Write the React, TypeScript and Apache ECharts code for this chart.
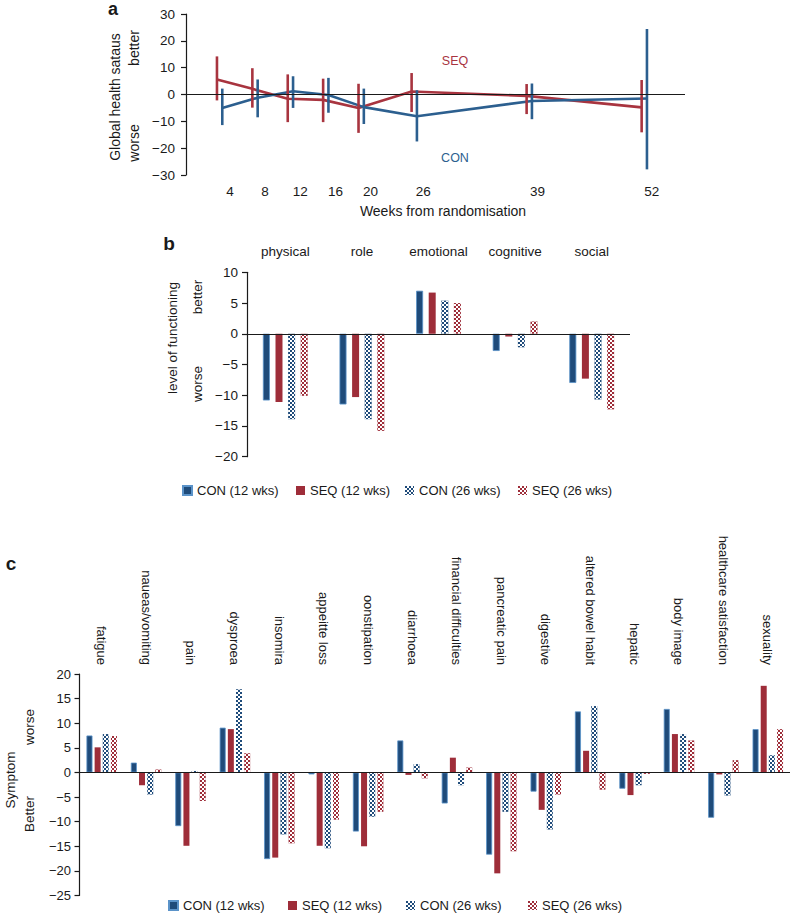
import React, { useEffect, useRef } from 'react';
import * as echarts from 'echarts';

const FONT = '"Liberation Sans", Arial, Helvetica, sans-serif';
const INK = '#1a1a1a';
const BLUE = '#1F4B7A';
const BLUE_EDGE = '#5B93C9';
const RED = '#9E2D39';
const LINE_BLUE = '#2C5F8F';
const LINE_RED = '#A8343F';

// ---- Panel a: global health status over time ----
const weeks = [4, 8, 12, 16, 20, 26, 39, 52];
const weekTicks = [4, 8, 12, 16, 20, 26, 39, 52];
const conOffset = 0.6;
const seqMean = [5.6, 2.1, -1.6, -2.0, -5.0, 1.1, -0.5, -4.8];
const seqLow = [-2.2, -4.9, -10.3, -10.3, -14.3, -6.5, -7.3, -14.1];
const seqHigh = [14.2, 9.8, 7.5, 5.9, 4.0, 8.0, 3.9, 5.4];
const conMean = [-5.0, -1.2, 1.2, -0.2, -4.7, -8.1, -2.4, -1.5];
const conLow = [-11.4, -8.5, -5.0, -6.8, -11.0, -17.5, -9.2, -27.9];
const conHigh = [2.2, 5.6, 6.8, 6.2, 2.2, 1.6, 4.1, 24.4];

// ---- Panel b: level of functioning ----
const funcCats = ['physical', 'role', 'emotional', 'cognitive', 'social'];
const funcCon12 = [-10.85, -11.5, 7.0, -2.8, -8.0];
const funcSeq12 = [-11.1, -10.3, 6.7, -0.45, -7.3];
const funcCon26 = [-13.9, -13.9, 5.4, -2.2, -10.7];
const funcSeq26 = [-10.1, -15.8, 5.0, 2.0, -12.3];

// ---- Panel c: symptoms ----
const sympCats = [
  'fatigue', 'naueas/vomiting', 'pain', 'dysproea', 'insomira', 'appeitte loss',
  'oonstipation', 'diarrhoea', 'financial difficulties', 'pancreatic pain', 'digestive',
  'altered bowel habit', 'hepatic', 'body image', 'healthcare satisfaction', 'sexuality',
];
const sympCon12 = [7.5, 2.0, -10.9, 9.1, -17.6, -0.4, -12.0, 6.5, -6.3, -16.7, -3.9, 12.4, -3.3, 12.9, -9.2, 8.8];
const sympSeq12 = [5.1, -2.6, -14.9, 8.8, -17.3, -14.9, -15.0, -0.5, 3.0, -20.5, -7.6, 4.4, -4.6, 7.8, -0.4, 17.6];
const sympCon26 = [7.8, -4.5, 0.3, 16.9, -12.6, -15.4, -9.0, 1.7, -2.6, -8.0, -11.6, 13.5, -2.6, 7.8, -4.7, 3.5];
const sympSeq26 = [7.4, 0.6, -5.8, 3.9, -14.4, -9.6, -8.0, -1.2, 1.0, -16.0, -4.5, -3.5, -0.3, 6.5, 2.5, 8.8];

const legendNames = ['CON (12 wks)', 'SEQ (12 wks)', 'CON (26 wks)', 'SEQ (26 wks)'];
const legendLeftB = [182, 296, 405, 518];
const legendLeftC = [168, 288, 406, 528];

const minusFmt = (v: number) => (v < 0 ? '\u2212' + -v : String(v));

const checkDecal = {
  symbol: 'rect',
  symbolSize: 1,
  dashArrayX: [[2, 2], [0, 2, 2, 0]],
  dashArrayY: [2, 0],
  color: '#ffffff',
  rotation: 0,
};

function errorBars(xs: number[], lows: number[], highs: number[], color: string, name: string) {
  return {
    type: 'custom',
    name,
    xAxisIndex: 0,
    yAxisIndex: 0,
    silent: true,
    z: 4,
    data: xs.map((x, i) => [x, lows[i], highs[i]]),
    encode: { x: 0, y: [1, 2] },
    renderItem: (_p: any, api: any) => {
      const a = api.coord([api.value(0), api.value(1)]);
      const b = api.coord([api.value(0), api.value(2)]);
      return {
        type: 'line',
        shape: { x1: a[0], y1: a[1], x2: b[0], y2: b[1] },
        style: { stroke: color, lineWidth: 2.6 },
      };
    },
  };
}

const zeroLine = {
  silent: true,
  symbol: ['none', 'none'],
  label: { show: false },
  lineStyle: { color: INK, width: 1.1, type: 'solid' },
  data: [{ yAxis: 0 }],
};

function barSeries(
  name: string,
  data: number[],
  gridIdx: number,
  kind: 'con12' | 'seq12' | 'con26' | 'seq26',
  barWidth: number,
  barGap: string,
  withZero: boolean
) {
  const base: any = {
    type: 'bar',
    name,
    xAxisIndex: gridIdx === 1 ? 2 : 3,
    yAxisIndex: gridIdx,
    data,
    barWidth,
    barGap,
    silent: true,
  };
  if (kind === 'con12') base.itemStyle = { color: BLUE, borderColor: BLUE_EDGE, borderWidth: 0.8 };
  if (kind === 'seq12') base.itemStyle = { color: RED };
  if (kind === 'con26') base.itemStyle = { color: BLUE, decal: checkDecal };
  if (kind === 'seq26') base.itemStyle = { color: RED, decal: checkDecal };
  if (withZero) base.markLine = zeroLine;
  return base;
}

function yAxisCfg(grid: number, min: number, max: number, interval: number, margin: number, fontSize: number) {
  return {
    gridIndex: grid,
    type: 'value',
    min,
    max,
    interval,
    axisLine: { show: true, onZero: false, lineStyle: { color: INK, width: 1.2 } },
    axisTick: { show: true, length: 5, lineStyle: { color: INK, width: 1.2 } },
    axisLabel: { margin, fontSize, color: INK, fontFamily: FONT, formatter: minusFmt },
    splitLine: { show: false },
  };
}

function txt(x: number, y: number, text: string, opts: any = {}) {
  return {
    type: 'text',
    x,
    y,
    rotation: opts.rotate ? Math.PI / 2 : 0,
    silent: true,
    style: {
      text,
      fill: opts.color || INK,
      fontSize: opts.size || 13.5,
      fontWeight: opts.bold ? 'bold' : 'normal',
      fontFamily: FONT,
      align: 'center',
      verticalAlign: 'middle',
    },
  };
}

function legendItem(name: string, left: number, top: number) {
  return {
    data: [name],
    left,
    top,
    itemWidth: 9,
    itemHeight: 9,
    icon: 'rect',
    selectedMode: false,
    padding: 0,
    textStyle: { fontSize: 13, color: INK, fontFamily: FONT },
  };
}

export default function App() {
  const ref = useRef<HTMLDivElement>(null);
  useEffect(() => {
    if (!ref.current) return;
    const chart = echarts.init(ref.current, undefined, { renderer: 'svg', width: 793, height: 915 });
    const option: any = {
      animation: false,
      backgroundColor: '#ffffff',
      textStyle: { fontFamily: FONT },
      grid: [
        { left: 186, top: 14, width: 499, height: 161, outerBoundsMode: 'none' },
        { left: 247, top: 272.3, width: 383, height: 184.4, outerBoundsMode: 'none' },
        { left: 79.5, top: 674, width: 710.5, height: 221.5, outerBoundsMode: 'none' },
      ],
      xAxis: [
        { gridIndex: 0, type: 'value', min: 0.5, max: 56.9, show: false, position: 'bottom' },
        {
          gridIndex: 0,
          type: 'value',
          position: 'bottom',
          min: -1.0,
          max: 55.77,
          axisLine: { show: false, onZero: false },
          axisTick: { show: false },
          splitLine: { show: false },
          axisLabel: { customValues: weekTicks, margin: 9, fontSize: 13.5, color: INK, fontFamily: FONT },
        },
        {
          gridIndex: 1,
          type: 'category',
          data: funcCats,
          position: 'top',
          axisLine: { show: false, onZero: false },
          axisTick: { show: false },
          axisLabel: { margin: 14, fontSize: 13.5, color: INK, fontFamily: FONT, interval: 0 },
        },
        {
          gridIndex: 2,
          type: 'category',
          data: sympCats,
          position: 'top',
          axisLine: { show: false, onZero: false },
          axisTick: { show: false },
          axisLabel: { margin: 9, rotate: 90, fontSize: 13, color: INK, fontFamily: FONT, interval: 0 },
        },
      ],
      yAxis: [
        yAxisCfg(0, -30, 30, 10, 11, 13.5),
        yAxisCfg(1, -20, 10, 5, 9, 13.5),
        yAxisCfg(2, -25, 20, 5, 8.5, 13),
      ],
      legend: [
        ...legendNames.map((n, i) => legendItem(n, legendLeftB[i], 484)),
        ...legendNames.map((n, i) => legendItem(n, legendLeftC[i], 899)),
      ],
      series: [
        {
          type: 'line',
          name: 'SEQ trend',
          xAxisIndex: 0,
          yAxisIndex: 0,
          data: weeks.map((w, i) => [w, seqMean[i]]),
          symbol: 'none',
          lineStyle: { color: LINE_RED, width: 2.6 },
          silent: true,
          z: 3,
          markLine: zeroLine,
        },
        errorBars(weeks, seqLow, seqHigh, LINE_RED, 'SEQ range'),
        {
          type: 'line',
          name: 'CON trend',
          xAxisIndex: 0,
          yAxisIndex: 0,
          data: weeks.map((w, i) => [w + conOffset, conMean[i]]),
          symbol: 'none',
          lineStyle: { color: LINE_BLUE, width: 2.6 },
          silent: true,
          z: 3,
        },
        errorBars(weeks.map((w) => w + conOffset), conLow, conHigh, LINE_BLUE, 'CON range'),

        barSeries(legendNames[0], funcCon12, 1, 'con12', 7, '80%', true),
        barSeries(legendNames[1], funcSeq12, 1, 'seq12', 7, '80%', false),
        barSeries(legendNames[2], funcCon26, 1, 'con26', 7, '80%', false),
        barSeries(legendNames[3], funcSeq26, 1, 'seq26', 7, '80%', false),

        barSeries(legendNames[0], sympCon12, 2, 'con12', 6, '36%', true),
        barSeries(legendNames[1], sympSeq12, 2, 'seq12', 6, '36%', false),
        barSeries(legendNames[2], sympCon26, 2, 'con26', 6, '36%', false),
        barSeries(legendNames[3], sympSeq26, 2, 'seq26', 6, '36%', false),
      ],
      graphic: [
        txt(113, 9, 'a', { bold: true, size: 18 }),
        txt(115, 97, 'Global health sataus', { rotate: true, size: 14 }),
        txt(134, 48, 'better', { rotate: true, size: 14 }),
        txt(134, 143, 'worse', { rotate: true, size: 14 }),
        txt(455, 61, 'SEQ', { color: LINE_RED, size: 12.5 }),
        txt(455, 158, 'CON', { color: LINE_BLUE, size: 12.5 }),
        txt(443, 211, 'Weeks from randomisation', { size: 14 }),

        txt(169, 243, 'b', { bold: true, size: 19 }),
        txt(172, 338, 'level of functioning', { rotate: true, size: 13.5 }),
        txt(197, 297, 'better', { rotate: true, size: 13.5 }),
        txt(197, 384, 'worse', { rotate: true, size: 13.5 }),

        txt(11, 563, 'c', { bold: true, size: 19 }),
        txt(10, 780, 'Symptom', { rotate: true, size: 13.5 }),
        txt(29, 727, 'worse', { rotate: true, size: 13.5 }),
        txt(29, 814, 'Better', { rotate: true, size: 13.5 }),
      ],
    };
    chart.setOption(option);
    return () => chart.dispose();
  }, []);
  return (
    <div
      ref={ref}
      style={{ position: 'absolute', left: 0, top: 0, width: 793, height: 915, background: '#ffffff' }}
    />
  );
}
